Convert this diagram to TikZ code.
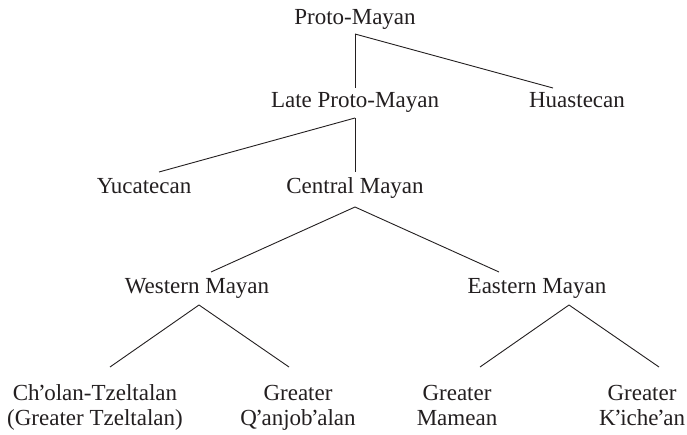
\documentclass[tikz,border=0pt]{standalone}
\usepackage{fontspec}
\setmainfont{Liberation Serif}
\usetikzlibrary{calc}
\definecolor{ink}{HTML}{231F20}
\newcommand\myap{\kern-1.6pt’\kern-1.4pt}
\begin{document}
\begin{tikzpicture}[x=1pt,y=-1pt,
  lbl/.style={anchor=base,inner sep=0pt,text=ink,font=\fontsize{23}{25}\selectfont,align=center},
  edge/.style={draw=ink,line width=0.9pt}]
\useasboundingbox[fill=white] (0,0) rectangle (687,435);
\node[lbl] (pm)  at (355,25)  {Proto-Mayan};
\node[lbl] (lpm) at (355,108) {Late Proto-Mayan};
\node[lbl] (hua) at (577,108) {Huastecan};
\node[lbl] (yuc) at (144,194) {Yucatecan};
\node[lbl] (cm)  at (355,194) {Central Mayan};
\node[lbl] (wm)  at (197,293) {Western Mayan};
\node[lbl] (em)  at (537,293) {Eastern Mayan};
\node[lbl] (cht) at (95,425)  {Ch\myap olan-Tzeltalan\\(Greater Tzeltalan)};
\node[lbl] (qan) at (298,425) {Greater\\Q\myap anjob\myap alan};
\node[lbl] (mam) at (457,425) {Greater\\Mamean};
\node[lbl] (kic) at (642,425) {Greater\\K\myap iche\myap an};
% junctions
\coordinate (pmJ)  at ($(pm.base)+(0,9)$);
\coordinate (lpmJ) at ($(lpm.base)+(0,10)$);
\coordinate (cmJ)  at ($(cm.base)+(0,13)$);
\coordinate (wmJ)  at ($(wm.base)+(2,12)$);
\coordinate (emJ)  at ($(em.base)+(32,12)$);
\draw[edge] (pmJ) -- ($(lpm.base)+(0,-20)$);
\draw[edge] (pmJ) -- ($(hua.base)+(-24,-20)$);
\draw[edge] (lpmJ) -- ($(yuc.base)+(15,-22)$);
\draw[edge] (lpmJ) -- ($(cm.base)+(0,-22)$);
\draw[edge] (cmJ) -- ($(wm.base)+(14,-21)$);
\draw[edge] (cmJ) -- ($(em.base)+(-38,-21)$);
\draw[edge] (wmJ) -- ($(cht.base)+(15,-58)$);
\draw[edge] (wmJ) -- ($(qan.base)+(-9,-58)$);
\draw[edge] (emJ) -- ($(mam.base)+(23,-58)$);
\draw[edge] (emJ) -- ($(kic.base)+(17,-58)$);
\end{tikzpicture}
\end{document}
